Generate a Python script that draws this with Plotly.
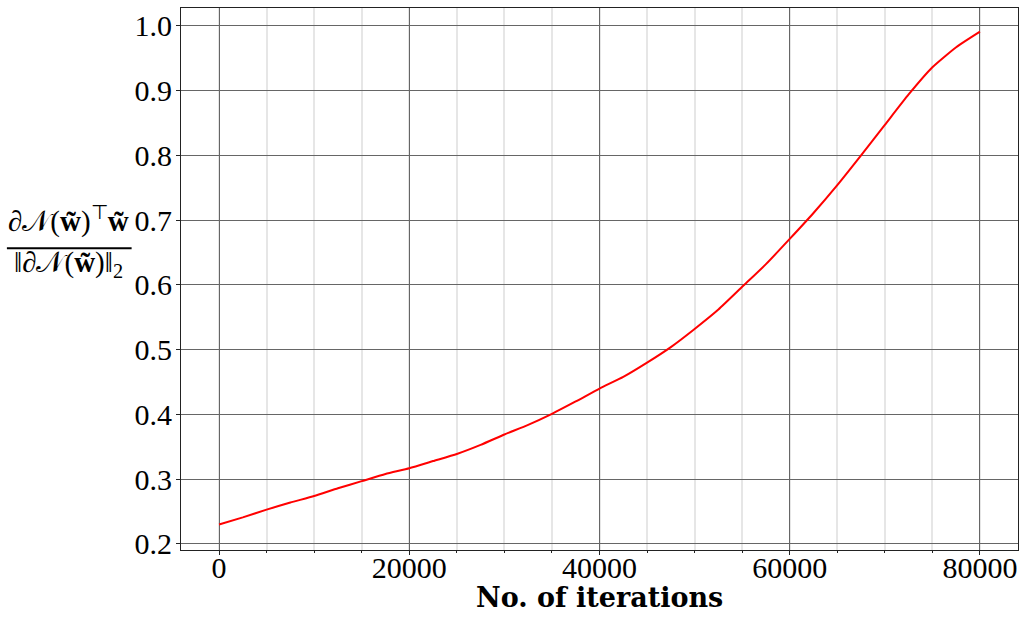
import plotly.graph_objects as go

# valores
iteracoes = [0, 2500, 5000, 7500, 10000, 12500, 15000, 17500, 20000, 22500,
             25000, 27500, 30000, 32500, 35000, 37500, 40000, 42500, 45000, 47500,
             50000, 52500, 55000, 57500, 60000, 62500, 65000, 67500, 70000, 72500,
             75000, 77500, 80000]
cosseno = [0.230, 0.241, 0.253, 0.264, 0.274, 0.286, 0.297, 0.308, 0.317, 0.328,
           0.339, 0.353, 0.369, 0.384, 0.401, 0.420, 0.440, 0.458, 0.480, 0.504,
           0.532, 0.562, 0.597, 0.632, 0.671, 0.711, 0.754, 0.800, 0.847, 0.894,
           0.936, 0.967, 0.991]

x_ticks = [0, 20000, 40000, 60000, 80000]
y_ticks = [0.2, 0.3, 0.4, 0.5, 0.6, 0.7, 0.8, 0.9, 1.0]

fonte = "Liberation Serif"

fig = go.Figure()

fig.add_trace(go.Scatter(
    x=iteracoes,
    y=cosseno,
    mode='lines',
    line=dict(color='#ff0000', width=2, shape='spline', smoothing=0.5),
    showlegend=False
))

eixo = dict(
    showline=True, linecolor='#222222', linewidth=1.2, mirror=True,
    showgrid=True, gridcolor='#666666', gridwidth=1,
    ticks='outside', ticklen=4, tickcolor='#222222',
    zeroline=False, automargin=False,
    tickfont=dict(family=fonte, size=30, color='#000000'),
)

fig.update_xaxes(
    **eixo,
    range=[-4000, 84000],
    tickvals=x_ticks,
    ticktext=[str(v) for v in x_ticks],
    ticklabelstandoff=-13,
    minor=dict(dtick=5000, tick0=0, showgrid=True, gridcolor='#e6e6e6',
               gridwidth=1.5, ticks='outside', ticklen=2, tickcolor='#222222'),
)
fig.update_yaxes(
    **eixo,
    range=[0.1907, 1.0275],
    tickvals=y_ticks,
    ticktext=[f"{v:.1f}" for v in y_ticks],
    ticklabelstandoff=-2,
)

# título do eixo x
fig.add_annotation(text='<b>No. of iterations</b>', xref='paper', yref='paper',
                   x=0.5, y=-0.088, showarrow=False, xanchor='center', yanchor='middle',
                   font=dict(family="DejaVu Serif", size=27, color='#000000'))

# rótulo do eixo y em forma de fração
num = "∂𝒩(<b>w̃</b>)<sup>⊤</sup><b>w̃</b>"
den = "‖∂𝒩(<b>w̃</b>)‖<sub>2</sub>"
fig.add_annotation(text=num, xref='paper', yref='paper', x=-0.135, y=0.609,
                   showarrow=False, xanchor='center', yanchor='middle',
                   font=dict(family=fonte, size=29, color='#000000'))
fig.add_annotation(text=den, xref='paper', yref='paper', x=-0.135, y=0.528,
                   showarrow=False, xanchor='center', yanchor='middle',
                   font=dict(family=fonte, size=29, color='#000000'))
fig.add_shape(type='line', xref='paper', yref='paper',
              x0=-0.208, x1=-0.059, y0=0.5567, y1=0.5567,
              line=dict(color='#000000', width=2))

fig.update_layout(
    width=1025,
    height=625,
    margin=dict(l=181, r=7, t=8, b=75),
    plot_bgcolor='#ffffff',
    paper_bgcolor='#ffffff',
    font=dict(family=fonte, color='#000000'),
)

fig.write_html("out.html", config={'displayModeBar': False},
               post_script="document.body.style.margin='0';")
